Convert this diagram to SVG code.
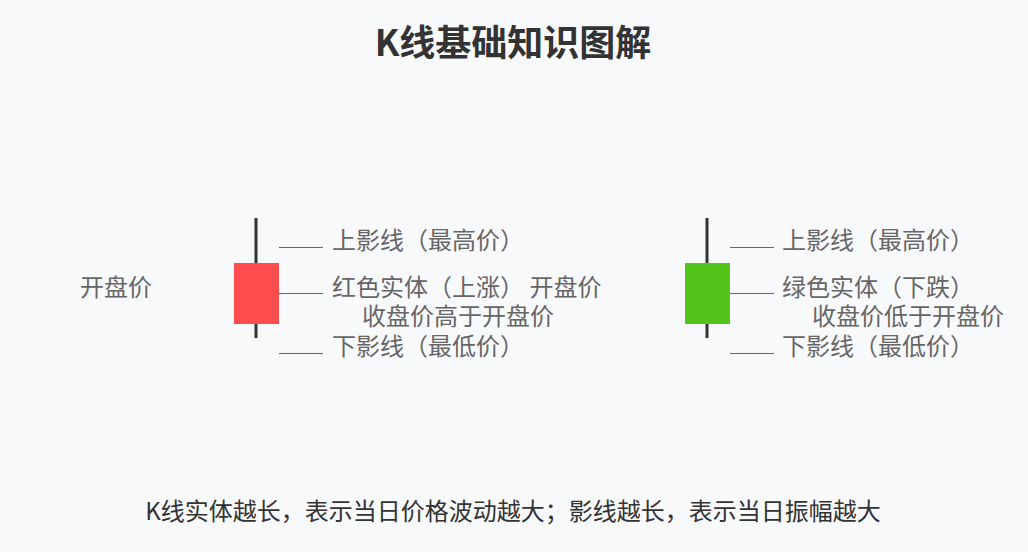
<svg xmlns="http://www.w3.org/2000/svg" width="1028" height="552" viewBox="0 0 1028 552">
<style>
text{font-family:"Noto Sans CJK SC","Noto Sans",sans-serif;}
.t{font-size:24px;fill:#666;}
.title{font-size:36px;font-weight:bold;fill:#333;}
.wick{stroke:#333;stroke-width:3;}
.lead{stroke:#666;stroke-width:1;}
</style>
<rect width="1028" height="552" fill="#f8f9fb"/>
<text class="title" x="513" y="56" text-anchor="middle">K线基础知识图解</text>
<g id="red-candle">
<line class="wick" x1="256" y1="218" x2="256" y2="338"/>
<rect x="234" y="263" width="45" height="61" fill="#ff4d4f"/>
</g>
<g id="green-candle">
<line class="wick" x1="707" y1="218" x2="707" y2="338"/>
<rect x="685" y="263" width="45" height="61" fill="#52c41a"/>
</g>
<g id="connectors">
<line class="lead" x1="279" y1="247.5" x2="323" y2="247.5"/>
<line class="lead" x1="279" y1="293.5" x2="323" y2="293.5"/>
<line class="lead" x1="279" y1="353.5" x2="323" y2="353.5"/>
<line class="lead" x1="730" y1="247.5" x2="774" y2="247.5"/>
<line class="lead" x1="730" y1="293.5" x2="774" y2="293.5"/>
<line class="lead" x1="730" y1="353.5" x2="774" y2="353.5"/>
</g>
<g id="red-labels">
<text class="t" x="80" y="296">开盘价</text>
<text class="t" x="332" y="249">上影线（最高价）</text>
<text class="t" x="332" y="296">红色实体（上涨） 开盘价</text>
<text class="t" x="362" y="325">收盘价高于开盘价</text>
<text class="t" x="332" y="355">下影线（最低价）</text>
</g>
<g id="green-labels">
<text class="t" x="782" y="249">上影线（最高价）</text>
<text class="t" x="782" y="296">绿色实体（下跌）</text>
<text class="t" x="812" y="325">收盘价低于开盘价</text>
<text class="t" x="782" y="355">下影线（最低价）</text>
</g>
<text class="t" x="513" y="520" text-anchor="middle" style="fill:#333">K线实体越长，表示当日价格波动越大；影线越长，表示当日振幅越大</text>
</svg>
